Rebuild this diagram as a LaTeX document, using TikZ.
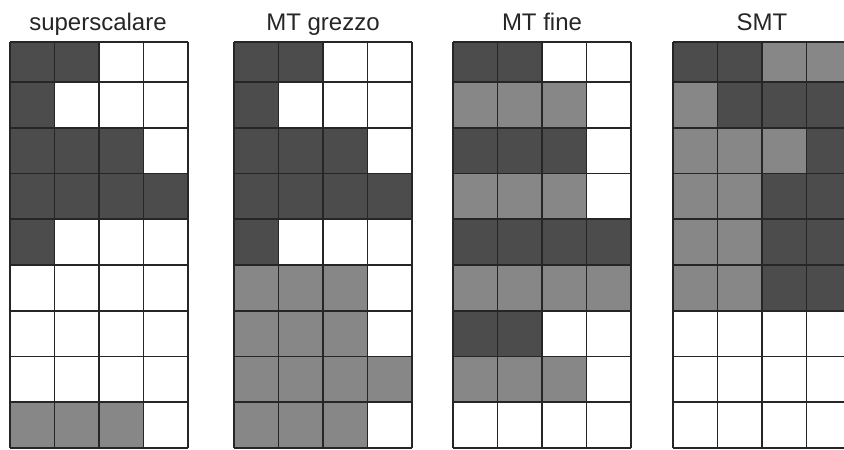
\documentclass[tikz,border=0pt]{standalone}
\usepackage{fontspec}
\setmainfont{Liberation Sans}
\usepackage{tikz}
\colorlet{slot0}{white}
\colorlet{slot1}{black!47}
\colorlet{slot2}{black!70}
\tikzset{
  grid title/.style={anchor=base,font=\fontsize{12}{14}\selectfont,text=black!85},
  slot line/.style={line width=0.9pt,draw=black!85},
}

\begin{document}
\begin{tikzpicture}[x=0.5pt,y=-0.5pt]
  \useasboundingbox (0,0) rectangle (844,449);
  % superscalare
  \begin{scope}[shift={(10,0)}]
    \node[grid title] (ss) at (88,31) {superscalare};
    \foreach \r/\a/\b/\c/\d in {1/2/2/0/0,2/2/0/0/0,3/2/2/2/0,4/2/2/2/2,5/2/0/0/0,
        6/0/0/0/0,7/0/0/0/0,8/0/0/0/0,9/1/1/1/0}{
      \pgfmathsetmacro\ya{max(42,82+(\r-2)*45.75)}
      \pgfmathsetmacro\yb{82+(\r-1)*45.75}
      \foreach \v [count=\k from 0] in {\a,\b,\c,\d}
        \fill[fill=slot\v] (\k*44.5,\ya) rectangle (\k*44.5+44.5,\yb);
    }
  \end{scope}
  % MT grezzo
  \begin{scope}[shift={(234,0)}]
    \node[grid title] (mtg) at (89,31) {MT grezzo};
    \foreach \r/\a/\b/\c/\d in {1/2/2/0/0,2/2/0/0/0,3/2/2/2/0,4/2/2/2/2,5/2/0/0/0,
        6/1/1/1/0,7/1/1/1/0,8/1/1/1/1,9/1/1/1/0}{
      \pgfmathsetmacro\ya{max(42,82+(\r-2)*45.75)}
      \pgfmathsetmacro\yb{82+(\r-1)*45.75}
      \foreach \v [count=\k from 0] in {\a,\b,\c,\d}
        \fill[fill=slot\v] (\k*44.5,\ya) rectangle (\k*44.5+44.5,\yb);
    }
  \end{scope}
  % MT fine
  \begin{scope}[shift={(453,0)}]
    \node[grid title] (mtf) at (89,31) {MT fine};
    \foreach \r/\a/\b/\c/\d in {1/2/2/0/0,2/1/1/1/0,3/2/2/2/0,4/1/1/1/0,5/2/2/2/2,
        6/1/1/1/1,7/2/2/0/0,8/1/1/1/0,9/0/0/0/0}{
      \pgfmathsetmacro\ya{max(42,82+(\r-2)*45.75)}
      \pgfmathsetmacro\yb{82+(\r-1)*45.75}
      \foreach \v [count=\k from 0] in {\a,\b,\c,\d}
        \fill[fill=slot\v] (\k*44.5,\ya) rectangle (\k*44.5+44.5,\yb);
    }
  \end{scope}
  % SMT
  \begin{scope}[shift={(673,0)}]
    \node[grid title] (smt) at (89,31) {SMT};
    \foreach \r/\a/\b/\c/\d in {1/2/2/1/1,2/1/2/2/2,3/1/1/1/2,4/1/1/2/2,5/1/1/2/2,
        6/1/1/2/2,7/0/0/0/0,8/0/0/0/0,9/0/0/0/0}{
      \pgfmathsetmacro\ya{max(42,82+(\r-2)*45.75)}
      \pgfmathsetmacro\yb{82+(\r-1)*45.75}
      \foreach \v [count=\k from 0] in {\a,\b,\c,\d}
        \fill[fill=slot\v] (\k*44.5,\ya) rectangle (\k*44.5+44.5,\yb);
    }
  \end{scope}
  % grid lines
  \foreach \gx in {10,234,453,673}{
    \foreach \k in {0,...,4}
      \draw[slot line] (\gx+\k*44.5,42) -- (\gx+\k*44.5,448);
    \foreach \r in {0,...,9}
      \draw[slot line] (\gx,{max(42,82+(\r-1)*45.75)})
        -- (\gx+178,{max(42,82+(\r-1)*45.75)});
  }
\end{tikzpicture}
\end{document}
